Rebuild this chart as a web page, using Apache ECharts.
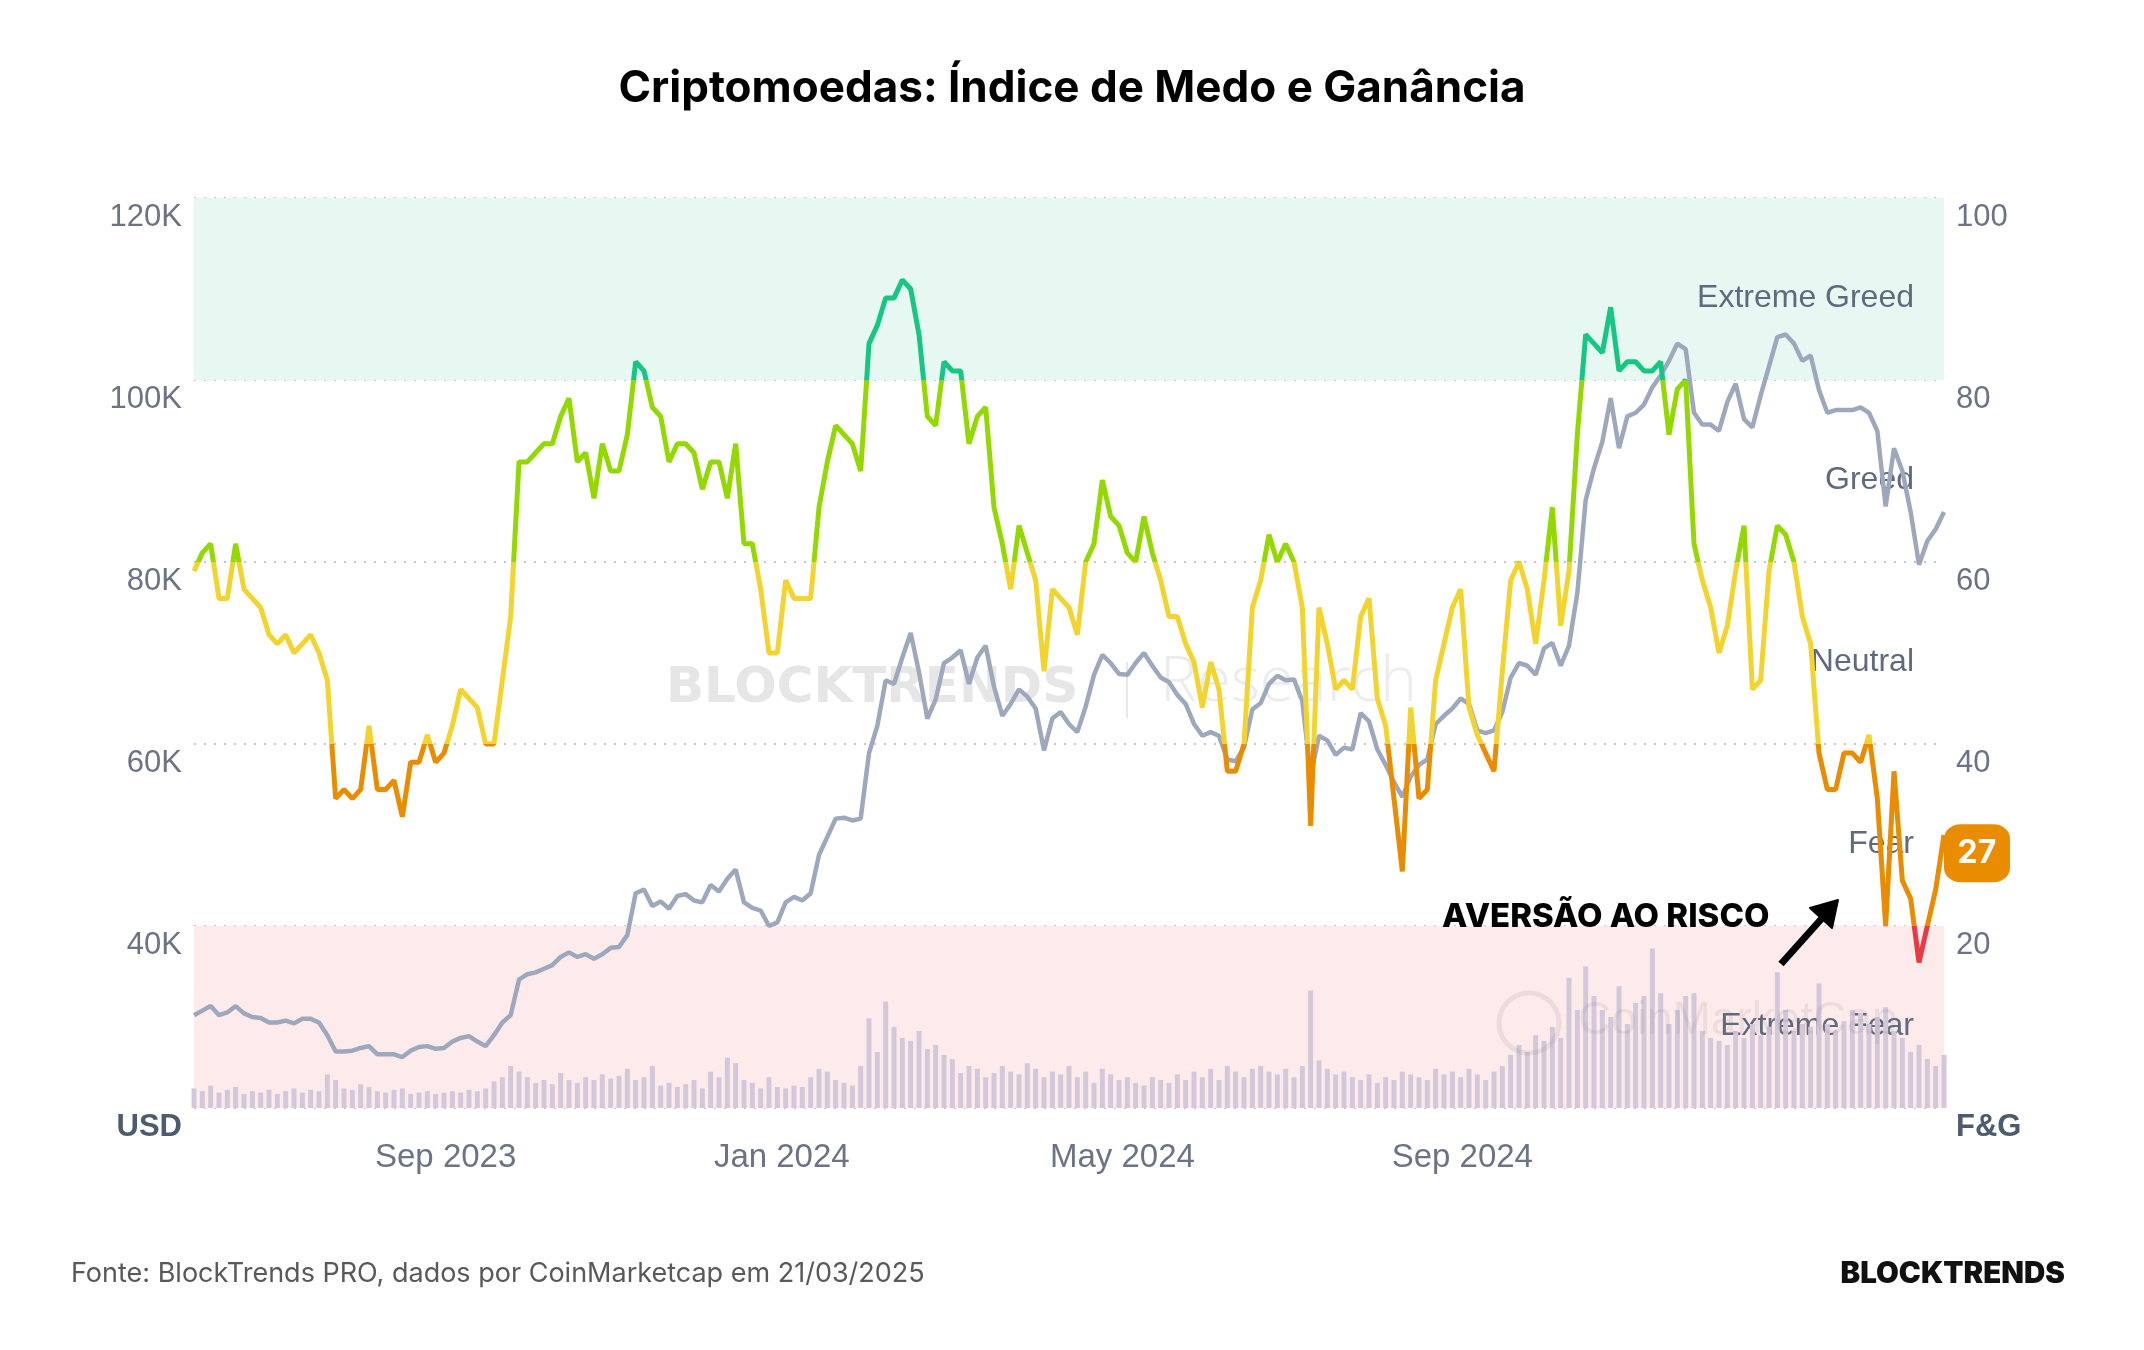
<!DOCTYPE html>
<html>
<head>
<meta charset="utf-8">
<title>Criptomoedas: Índice de Medo e Ganância</title>
<script src="https://cdn.jsdelivr.net/npm/echarts@6/dist/echarts.min.js"></script>
<style>
  html, body { margin: 0; padding: 0; background: #fff; }
  #chart { width: 2144px; height: 1350px; }
</style>
</head>
<body>
<div id="chart"></div>
<script>
// one sample every 3 days, 30/06/2023 -> 21/03/2025
const startDate = Date.UTC(2023, 5, 30)
const stepDays = 3

// Fear & Greed index (0-100)
const fearGreed = [
  59, 61, 62, 56, 56, 62, 57, 56, 55, 52,
  51, 52, 50, 51, 52, 50, 47, 34, 35, 34,
  35, 42, 35, 35, 36, 32, 38, 38, 41, 38,
  39, 42, 46, 45, 44, 40, 40, 47, 54, 71,
  71, 72, 73, 73, 76, 78, 71, 72, 67, 73,
  70, 70, 74, 82, 81, 77, 76, 71, 73, 73,
  72, 68, 71, 71, 67, 73, 62, 62, 57, 50,
  50, 58, 56, 56, 56, 66, 71, 75, 74, 73,
  70, 84, 86, 89, 89, 91, 90, 85, 76, 75,
  82, 81, 81, 73, 76, 77, 66, 62, 57, 64,
  61, 58, 48, 57, 56, 55, 52, 60, 62, 69,
  65, 64, 61, 60, 65, 61, 58, 54, 54, 51,
  49, 44, 49, 46, 37, 37, 40, 55, 58, 63,
  60, 62, 60, 55, 31, 55, 51, 46, 47, 46,
  54, 56, 45, 42, 34, 26, 44, 34, 35, 47,
  51, 55, 57, 44, 41, 39, 37, 48, 58, 60,
  57, 51, 58, 66, 53, 59, 74, 85, 84, 83,
  88, 81, 82, 82, 81, 81, 82, 74, 79, 80,
  62, 58, 55, 50, 53, 59, 64, 46, 47, 59,
  64, 63, 60, 54, 51, 39, 35, 35, 39, 39,
  38, 41, 34, 20, 37, 25, 23, 16, 20, 24, 30
]

// BTC price, thousands of USD
const btcPrice = [
  30.2, 30.7, 31.2, 30.2, 30.5, 31.2, 30.4, 30.0, 29.9, 29.4,
  29.4, 29.6, 29.3, 29.8, 29.8, 29.4, 28.0, 26.2, 26.2, 26.3,
  26.6, 26.8, 25.9, 25.9, 25.9, 25.6, 26.3, 26.7, 26.8, 26.5,
  26.6, 27.3, 27.7, 27.9, 27.3, 26.8, 28.0, 29.4, 30.2, 34.1,
  34.7, 34.9, 35.3, 35.7, 36.6, 37.1, 36.6, 36.9, 36.4, 36.9,
  37.6, 37.7, 39.0, 43.6, 44.0, 42.2, 42.7, 41.9, 43.3, 43.5,
  42.8, 42.6, 44.5, 43.8, 45.2, 46.2, 42.6, 42.0, 41.7, 40.0,
  40.4, 42.6, 43.2, 42.8, 43.6, 47.8, 49.8, 51.8, 51.9, 51.6,
  51.8, 59.0, 62.0, 67.0, 66.6, 69.5, 72.2, 67.9, 62.8, 64.9,
  68.9, 69.5, 70.3, 66.6, 69.5, 70.8, 66.3, 63.1, 64.4, 66.0,
  65.2, 63.9, 59.3, 62.8, 63.5, 62.2, 61.3, 64.1, 67.6, 69.8,
  68.9, 67.7, 67.6, 68.9, 70.0, 68.6, 67.3, 66.8, 65.4, 64.4,
  62.2, 60.9, 61.3, 60.9, 58.3, 58.1, 59.6, 63.8, 64.5, 66.6,
  67.5, 67.0, 67.1, 64.7, 56.5, 60.9, 60.4, 58.8, 59.6, 59.4,
  63.4, 62.5, 59.4, 57.7, 55.8, 54.2, 56.4, 57.7, 58.3, 62.2,
  63.1, 63.9, 65.0, 64.4, 61.5, 61.2, 61.5, 63.5, 67.3, 68.9,
  68.6, 67.6, 70.5, 71.1, 68.6, 70.8, 76.6, 86.8, 90.3, 93.2,
  98.0, 92.5, 96.0, 96.4, 97.3, 99.2, 100.5, 102.1, 104.0, 103.4,
  96.4, 95.1, 95.1, 94.4, 97.6, 99.6, 95.7, 94.8, 98.3, 101.5,
  104.7, 105.0, 104.0, 102.1, 102.7, 98.9, 96.4, 96.7, 96.7, 96.7,
  97.0, 96.4, 94.4, 86.1, 92.5, 90.0, 85.5, 79.7, 82.3, 83.6, 85.5
]

// traded volume, billions of USD
const volume = [
  14, 12, 16, 11, 13, 15, 10, 12, 11, 13,
  10, 12, 14, 11, 13, 12, 24, 20, 14, 13,
  17, 15, 12, 11, 13, 14, 10, 11, 12, 10,
  11, 12, 11, 13, 12, 14, 19, 22, 30, 26,
  22, 18, 20, 17, 25, 20, 18, 22, 20, 24,
  21, 23, 28, 20, 22, 30, 16, 18, 15, 17,
  20, 14, 26, 22, 36, 32, 20, 18, 14, 22,
  15, 14, 16, 15, 22, 28, 26, 20, 18, 16,
  30, 64, 40, 76, 58, 50, 48, 55, 42, 45,
  38, 35, 25, 30, 28, 22, 25, 30, 26, 24,
  32, 28, 22, 26, 24, 30, 22, 26, 18, 28,
  24, 20, 22, 18, 16, 22, 20, 18, 24, 20,
  26, 22, 28, 20, 30, 26, 22, 28, 30, 26,
  24, 28, 22, 30, 84, 34, 28, 24, 26, 22,
  20, 24, 18, 22, 20, 26, 24, 22, 20, 28,
  24, 26, 22, 28, 24, 20, 26, 30, 38, 45,
  40, 52, 48, 58, 50, 93, 70, 101, 80, 70,
  65, 87, 60, 75, 80, 114, 82, 60, 70, 80,
  82, 55, 50, 48, 45, 55, 50, 60, 52, 58,
  97, 70, 55, 60, 58, 89, 60, 55, 62, 70,
  68, 60, 65, 72, 55, 50, 40, 45, 35, 30, 38
]

const currentIndex = 27
const zoneNames = ['Extreme Fear', 'Fear', 'Neutral', 'Greed', 'Extreme Greed']
const zoneColors = ['#EA3943', '#EA8C00', '#F3D42F', '#93D900', '#16C784']
const labelMonths = [Date.UTC(2023, 8, 1), Date.UTC(2024, 0, 1), Date.UTC(2024, 4, 1), Date.UTC(2024, 8, 1)]
const monthNames = ['Jan', 'Feb', 'Mar', 'Apr', 'May', 'Jun', 'Jul', 'Aug', 'Sep', 'Oct', 'Nov', 'Dec']

const DAY = 24 * 3600 * 1000
const dates = fearGreed.map((v, i) => startDate + i * stepDays * DAY)
const endDate = dates[dates.length - 1]

const axisColor = '#6b7385'
const labelFont = '"Liberation Sans", Arial, sans-serif'

const chart = echarts.init(document.getElementById('chart'))

chart.setOption({
  backgroundColor: '#ffffff',
  animation: false,
  title: [
    {
      text: 'Criptomoedas: Índice de Medo e Ganância',
      left: 'center',
      top: 62,
      textStyle: { fontFamily: 'Inter', fontWeight: 700, fontSize: 44, color: '#000' }
    },
    {
      text: 'Fonte: BlockTrends PRO, dados por CoinMarketcap em 21/03/2025',
      left: 66,
      top: 1255,
      textStyle: { fontFamily: 'Inter', fontWeight: 400, fontSize: 27, color: '#595959' }
    },
    {
      text: 'BLOCKTRENDS',
      right: 74,
      top: 1254,
      textStyle: { fontFamily: 'Inter', fontWeight: 900, fontSize: 29.5, color: '#111' }
    }
  ],
  grid: { left: 194, right: 200, top: 198, bottom: 242 },
  visualMap: {
    type: 'piecewise',
    show: false,
    seriesIndex: 3,
    dimension: 1,
    pieces: [
      { gte: 0, lt: 20, color: zoneColors[0] },
      { gte: 20, lt: 40, color: zoneColors[1] },
      { gte: 40, lt: 60, color: zoneColors[2] },
      { gte: 60, lt: 80, color: zoneColors[3] },
      { gte: 80, lte: 100, color: zoneColors[4] }
    ]
  },
  xAxis: {
    // timestamps on a plain value axis, labels only at chosen months
    type: 'value',
    min: startDate,
    max: endDate,
    axisLine: { show: false },
    axisTick: { show: false },
    splitLine: { show: false },
    axisLabel: {
      customValues: labelMonths,
      formatter: (val) => {
        const d = new Date(val)
        return monthNames[d.getUTCMonth()] + ' ' + d.getUTCFullYear()
      },
      align: 'left',
      padding: [0, 0, 0, 6],
      margin: 33,
      fontSize: 33,
      fontFamily: labelFont,
      color: axisColor
    }
  },
  yAxis: [
    {
      type: 'value',
      position: 'left',
      min: 20,
      max: 120,
      interval: 20,
      axisLine: { show: false },
      axisTick: { show: false },
      splitLine: { lineStyle: { color: '#c3c8d0', width: 2, type: [2, 8] } },
      axisLabel: {
        formatter: (v) => v === 20 ? '{u|USD}' : v + 'K',
        verticalAlign: 'top',
        padding: [4, 0, 0, 0],
        margin: 12,
        fontSize: 31,
        fontFamily: labelFont,
        color: axisColor,
        rich: { u: { fontSize: 31, fontWeight: 'bold', fontFamily: labelFont, color: '#4e5a6e' } }
      }
    },
    {
      type: 'value',
      position: 'right',
      min: 0,
      max: 100,
      interval: 20,
      axisLine: { show: false },
      axisTick: { show: false },
      splitLine: { show: false },
      axisLabel: {
        formatter: (v) => v === 0 ? '{u|F&G}' : String(v),
        verticalAlign: 'top',
        padding: [4, 0, 0, 0],
        margin: 12,
        fontSize: 31,
        fontFamily: labelFont,
        color: axisColor,
        rich: { u: { fontSize: 31, fontWeight: 'bold', fontFamily: labelFont, color: '#4e5a6e' } }
      }
    },
    { type: 'value', min: 0, max: 650, show: false }
  ],
  series: [
    {
      // zone bands and their names
      name: 'zones',
      type: 'line',
      yAxisIndex: 1,
      data: [],
      z: 1,
      silent: true,
      markArea: {
        silent: true,
        label: {
          show: true,
          position: 'insideRight',
          distance: 30,
          offset: [0, 9],
          fontSize: 32,
          fontFamily: labelFont,
          color: '#5f6a7d'
        },
        data: zoneNames.map((name, k) => [
          {
            name: name,
            yAxis: k * 20,
            itemStyle: { color: k === 0 ? '#fdebec' : k === 4 ? '#e7f8f2' : 'rgba(0,0,0,0)' }
          },
          { yAxis: k * 20 + 20 }
        ])
      }
    },
    {
      name: 'Volume',
      type: 'bar',
      yAxisIndex: 2,
      barWidth: 5,
      z: 2,
      itemStyle: { color: '#d3c8da' },
      data: volume.map((v, i) => [dates[i], v])
    },
    {
      name: 'BTC',
      type: 'line',
      yAxisIndex: 0,
      symbol: 'none',
      z: 3,
      lineStyle: { color: '#9ea8bd', width: 4.5 },
      data: btcPrice.map((v, i) => [dates[i], v])
    },
    {
      name: 'Fear & Greed',
      type: 'line',
      yAxisIndex: 1,
      symbol: 'none',
      z: 4,
      lineStyle: { width: 5 },
      data: fearGreed.map((v, i) => [dates[i], v]),
      markPoint: {
        silent: true,
        symbol: 'roundRect',
        symbolSize: [66, 58],
        symbolOffset: [33, -9],
        itemStyle: { color: '#EA8C00' },
        label: {
          show: true,
          position: 'inside',
          formatter: String(currentIndex),
          color: '#fff',
          fontSize: 32,
          fontWeight: 'bold',
          fontFamily: 'Inter'
        },
        data: [{ coord: [endDate, currentIndex], value: currentIndex }]
      }
    }
  ],
  graphic: [
    // watermarks
    {
      type: 'text', z: 1, left: 666, top: 664,
      style: { text: 'BLOCKTRENDS', font: '900 50px "DejaVu Sans"', fill: '#e6e6e6' }
    },
    {
      type: 'rect', z: 1, left: 1126, top: 662,
      shape: { width: 2, height: 56 },
      style: { fill: '#e8e8e8' }
    },
    {
      type: 'text', z: 1, left: 1160, top: 652,
      style: { text: 'Research', font: '300 62px "Open Sans"', fill: '#ececec' }
    },
    {
      type: 'circle', z: 5, shape: { cx: 1529, cy: 1023, r: 30 },
      style: { fill: 'none', stroke: 'rgba(120,110,120,0.13)', lineWidth: 5 }
    },
    {
      type: 'text', z: 5, left: 1578, top: 998,
      style: { text: 'CoinMarketCap', font: '46px "Liberation Sans"', fill: 'rgba(120,110,120,0.12)' }
    },
    // annotation
    {
      type: 'text', z: 10, left: 1442, top: 901,
      style: { text: 'AVERSÃO AO RISCO', font: '800 33px Inter', fill: '#000' }
    },
    {
      type: 'line', z: 10,
      shape: { x1: 1781, y1: 964, x2: 1824, y2: 916 },
      style: { stroke: '#000', lineWidth: 7, lineCap: 'butt' }
    },
    {
      type: 'polygon', z: 10,
      shape: { points: [[1838, 900], [1832, 928], [1810, 908]] },
      style: { fill: '#000', stroke: '#000', lineWidth: 2, lineJoin: 'round' }
    }
  ]
})
</script>
</body>
</html>
